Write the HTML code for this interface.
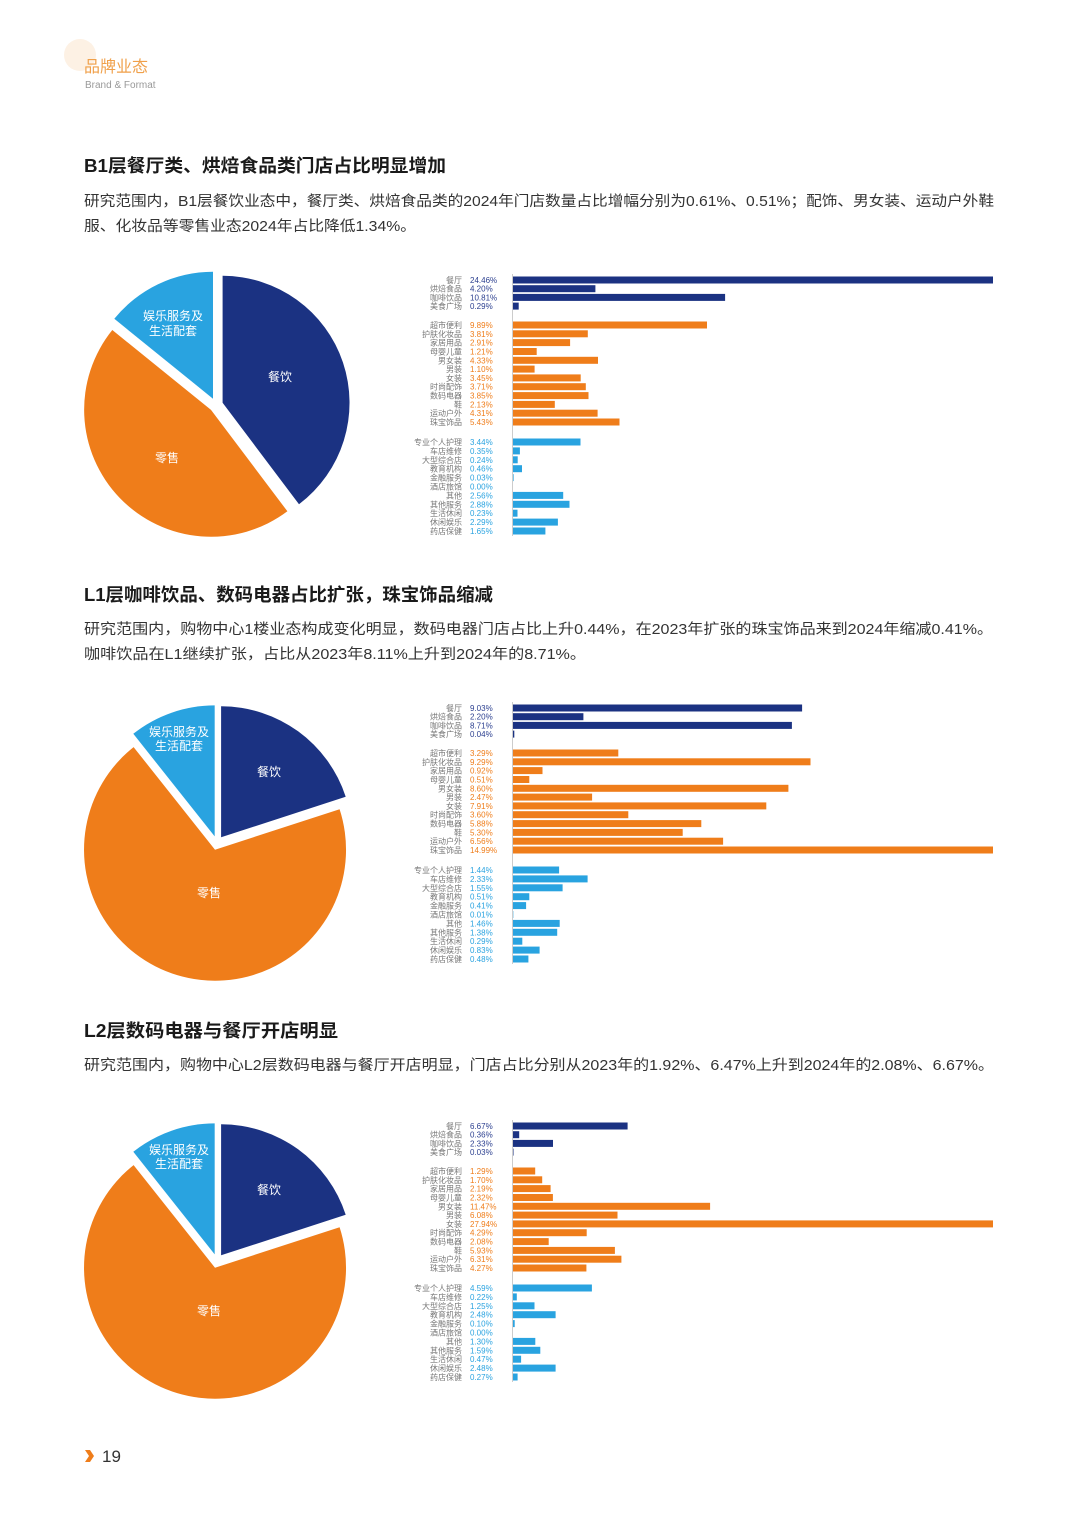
<!DOCTYPE html>
<html><head><meta charset="utf-8"><style>
html,body{margin:0;padding:0;background:#fff;}
svg{display:block;font-family:"Liberation Sans","Noto Sans CJK SC",sans-serif;}
.t{font-size:18px;font-weight:bold;fill:#1a1a1a;}
.p{font-size:14.5px;fill:#333;}
.n{font-size:8px;fill:#777;text-anchor:end;}
.v1{font-size:8px;fill:#2b3f8f;}
.v2{font-size:8px;fill:#ef7d1a;}
.v3{font-size:8px;fill:#2aa3e0;}
.b1{fill:#1b3282;}.b2{fill:#ef7d1a;}.b3{fill:#29a3e0;}
.pl{font-size:12px;fill:#fff;text-anchor:middle;}
</style></head><body>
<svg width="1080" height="1515" viewBox="0 0 1080 1515">
<circle cx="80" cy="55" r="16" fill="#fdf1e4"/>
<text x="84" y="72" font-size="16" fill="#f0a04a">品牌业态</text>
<text x="85" y="88" font-size="10" fill="#999">Brand &amp; Format</text>

<text class="t" x="84" y="172" textLength="362" lengthAdjust="spacingAndGlyphs">B1层餐厅类、烘焙食品类门店占比明显增加</text>
<text class="p" x="84" y="206" textLength="910" lengthAdjust="spacingAndGlyphs">研究范围内，B1层餐饮业态中，餐厅类、烘焙食品类的2024年门店数量占比增幅分别为0.61%、0.51%；配饰、男女装、运动户外鞋</text>
<text class="p" x="84" y="231" textLength="332" lengthAdjust="spacingAndGlyphs">服、化妆品等零售业态2024年占比降低1.34%。</text>

<text class="t" x="84" y="601" textLength="409" lengthAdjust="spacingAndGlyphs">L1层咖啡饮品、数码电器占比扩张，珠宝饰品缩减</text>
<text class="p" x="84" y="634" textLength="909" lengthAdjust="spacingAndGlyphs">研究范围内，购物中心1楼业态构成变化明显，数码电器门店占比上升0.44%，在2023年扩张的珠宝饰品来到2024年缩减0.41%。</text>
<text class="p" x="84" y="659" textLength="502" lengthAdjust="spacingAndGlyphs">咖啡饮品在L1继续扩张，占比从2023年8.11%上升到2024年的8.71%。</text>

<text class="t" x="84" y="1037" textLength="254" lengthAdjust="spacingAndGlyphs">L2层数码电器与餐厅开店明显</text>
<text class="p" x="84" y="1070" textLength="910" lengthAdjust="spacingAndGlyphs">研究范围内，购物中心L2层数码电器与餐厅开店明显，门店占比分别从2023年的1.92%、6.47%上升到2024年的2.08%、6.67%。</text>

<!-- Pie 1 -->
<path class="b1" d="M222.6,402.8 L222.6,275.8 A127,127 0 0 1 299.0,504.2 Z"/>
<path class="b2" d="M211,409.9 L287.4,511.3 A127,127 0 0 1 112.3,330.0 Z"/>
<path class="b3" d="M213,398.7 L114.3,318.8 A127,127 0 0 1 213,271.7 Z"/>
<text class="pl" x="280" y="381">餐饮</text>
<text class="pl" x="167" y="462">零售</text>
<text class="pl" x="173" y="320">娱乐服务及</text>
<text class="pl" x="173" y="335">生活配套</text>

<!-- Pie 2 -->
<g id="pie2">
<path class="b1" d="M221.1,837.3 L221.1,706.3 A131,131 0 0 1 345.7,796.8 Z"/>
<path class="b2" d="M215,849.7 L339.6,809.2 A131,131 0 1 1 133.6,747.1 Z"/>
<path class="b3" d="M214.7,836.4 L133.3,733.8 A131,131 0 0 1 214.7,705.4 Z"/>
<text class="pl" x="269" y="776">餐饮</text>
<text class="pl" x="209" y="897">零售</text>
<text class="pl" x="179" y="736">娱乐服务及</text>
<text class="pl" x="179" y="750">生活配套</text>
</g>
<g transform="translate(0,418)">
<path class="b1" d="M221.1,837.3 L221.1,706.3 A131,131 0 0 1 345.7,796.8 Z"/>
<path class="b2" d="M215,849.7 L339.6,809.2 A131,131 0 1 1 133.6,747.1 Z"/>
<path class="b3" d="M214.7,836.4 L133.3,733.8 A131,131 0 0 1 214.7,705.4 Z"/>
<text class="pl" x="269" y="776">餐饮</text>
<text class="pl" x="209" y="897">零售</text>
<text class="pl" x="179" y="736">娱乐服务及</text>
<text class="pl" x="179" y="750">生活配套</text>
</g>

<!-- Bar chart 1 -->
<g transform="translate(0,280)">
<line x1="512.5" y1="-6" x2="512.5" y2="256" stroke="#ccc" stroke-width="1"/>
<text class="n" x="462" y="3">餐厅</text><text class="v1" x="470" y="3">24.46%</text><rect class="b1" x="513" y="-3.5" width="480" height="7"/>
<text class="n" x="462" y="11.7">烘焙食品</text><text class="v1" x="470" y="11.7">4.20%</text><rect class="b1" x="513" y="5.2" width="82.4" height="7"/>
<text class="n" x="462" y="20.4">咖啡饮品</text><text class="v1" x="470" y="20.4">10.81%</text><rect class="b1" x="513" y="13.9" width="212.1" height="7"/>
<text class="n" x="462" y="29.1">美食广场</text><text class="v1" x="470" y="29.1">0.29%</text><rect class="b1" x="513" y="22.6" width="5.7" height="7"/>
<text class="n" x="462" y="48">超市便利</text><text class="v2" x="470" y="48">9.89%</text><rect class="b2" x="513" y="41.5" width="194" height="7"/>
<text class="n" x="462" y="56.8">护肤化妆品</text><text class="v2" x="470" y="56.8">3.81%</text><rect class="b2" x="513" y="50.3" width="74.8" height="7"/>
<text class="n" x="462" y="65.6">家居用品</text><text class="v2" x="470" y="65.6">2.91%</text><rect class="b2" x="513" y="59.1" width="57.1" height="7"/>
<text class="n" x="462" y="74.5">母婴儿童</text><text class="v2" x="470" y="74.5">1.21%</text><rect class="b2" x="513" y="68" width="23.7" height="7"/>
<text class="n" x="462" y="83.3">男女装</text><text class="v2" x="470" y="83.3">4.33%</text><rect class="b2" x="513" y="76.8" width="85" height="7"/>
<text class="n" x="462" y="92.1">男装</text><text class="v2" x="470" y="92.1">1.10%</text><rect class="b2" x="513" y="85.6" width="21.6" height="7"/>
<text class="n" x="462" y="100.9">女装</text><text class="v2" x="470" y="100.9">3.45%</text><rect class="b2" x="513" y="94.4" width="67.7" height="7"/>
<text class="n" x="462" y="109.7">时尚配饰</text><text class="v2" x="470" y="109.7">3.71%</text><rect class="b2" x="513" y="103.2" width="72.8" height="7"/>
<text class="n" x="462" y="118.6">数码电器</text><text class="v2" x="470" y="118.6">3.85%</text><rect class="b2" x="513" y="112.1" width="75.5" height="7"/>
<text class="n" x="462" y="127.4">鞋</text><text class="v2" x="470" y="127.4">2.13%</text><rect class="b2" x="513" y="120.9" width="41.8" height="7"/>
<text class="n" x="462" y="136.2">运动户外</text><text class="v2" x="470" y="136.2">4.31%</text><rect class="b2" x="513" y="129.7" width="84.6" height="7"/>
<text class="n" x="462" y="145">珠宝饰品</text><text class="v2" x="470" y="145">5.43%</text><rect class="b2" x="513" y="138.5" width="106.5" height="7"/>
<text class="n" x="462" y="165">专业个人护理</text><text class="v3" x="470" y="165">3.44%</text><rect class="b3" x="513" y="158.5" width="67.5" height="7"/>
<text class="n" x="462" y="173.9">车店维修</text><text class="v3" x="470" y="173.9">0.35%</text><rect class="b3" x="513" y="167.4" width="6.9" height="7"/>
<text class="n" x="462" y="182.8">大型综合店</text><text class="v3" x="470" y="182.8">0.24%</text><rect class="b3" x="513" y="176.3" width="4.7" height="7"/>
<text class="n" x="462" y="191.7">教育机构</text><text class="v3" x="470" y="191.7">0.46%</text><rect class="b3" x="513" y="185.2" width="9" height="7"/>
<text class="n" x="462" y="200.6">金融服务</text><text class="v3" x="470" y="200.6">0.03%</text><rect class="b3" x="513" y="194.1" width="0.6" height="7"/>
<text class="n" x="462" y="209.5">酒店旅馆</text><text class="v3" x="470" y="209.5">0.00%</text>
<text class="n" x="462" y="218.4">其他</text><text class="v3" x="470" y="218.4">2.56%</text><rect class="b3" x="513" y="211.9" width="50.2" height="7"/>
<text class="n" x="462" y="227.3">其他服务</text><text class="v3" x="470" y="227.3">2.88%</text><rect class="b3" x="513" y="220.8" width="56.5" height="7"/>
<text class="n" x="462" y="236.2">生活休闲</text><text class="v3" x="470" y="236.2">0.23%</text><rect class="b3" x="513" y="229.7" width="4.5" height="7"/>
<text class="n" x="462" y="245.1">休闲娱乐</text><text class="v3" x="470" y="245.1">2.29%</text><rect class="b3" x="513" y="238.6" width="44.9" height="7"/>
<text class="n" x="462" y="254">药店保健</text><text class="v3" x="470" y="254">1.65%</text><rect class="b3" x="513" y="247.5" width="32.4" height="7"/>
</g>

<!-- Bar chart 2 -->
<g transform="translate(0,708)">
<line x1="512.5" y1="-6" x2="512.5" y2="256" stroke="#ccc" stroke-width="1"/>
<text class="n" x="462" y="3">餐厅</text><text class="v1" x="470" y="3">9.03%</text><rect class="b1" x="513" y="-3.5" width="289.1" height="7"/>
<text class="n" x="462" y="11.7">烘焙食品</text><text class="v1" x="470" y="11.7">2.20%</text><rect class="b1" x="513" y="5.2" width="70.4" height="7"/>
<text class="n" x="462" y="20.4">咖啡饮品</text><text class="v1" x="470" y="20.4">8.71%</text><rect class="b1" x="513" y="13.9" width="278.9" height="7"/>
<text class="n" x="462" y="29.1">美食广场</text><text class="v1" x="470" y="29.1">0.04%</text><rect class="b1" x="513" y="22.6" width="1.3" height="7"/>
<text class="n" x="462" y="48">超市便利</text><text class="v2" x="470" y="48">3.29%</text><rect class="b2" x="513" y="41.5" width="105.3" height="7"/>
<text class="n" x="462" y="56.8">护肤化妆品</text><text class="v2" x="470" y="56.8">9.29%</text><rect class="b2" x="513" y="50.3" width="297.5" height="7"/>
<text class="n" x="462" y="65.6">家居用品</text><text class="v2" x="470" y="65.6">0.92%</text><rect class="b2" x="513" y="59.1" width="29.5" height="7"/>
<text class="n" x="462" y="74.5">母婴儿童</text><text class="v2" x="470" y="74.5">0.51%</text><rect class="b2" x="513" y="68" width="16.3" height="7"/>
<text class="n" x="462" y="83.3">男女装</text><text class="v2" x="470" y="83.3">8.60%</text><rect class="b2" x="513" y="76.8" width="275.4" height="7"/>
<text class="n" x="462" y="92.1">男装</text><text class="v2" x="470" y="92.1">2.47%</text><rect class="b2" x="513" y="85.6" width="79.1" height="7"/>
<text class="n" x="462" y="100.9">女装</text><text class="v2" x="470" y="100.9">7.91%</text><rect class="b2" x="513" y="94.4" width="253.3" height="7"/>
<text class="n" x="462" y="109.7">时尚配饰</text><text class="v2" x="470" y="109.7">3.60%</text><rect class="b2" x="513" y="103.2" width="115.3" height="7"/>
<text class="n" x="462" y="118.6">数码电器</text><text class="v2" x="470" y="118.6">5.88%</text><rect class="b2" x="513" y="112.1" width="188.3" height="7"/>
<text class="n" x="462" y="127.4">鞋</text><text class="v2" x="470" y="127.4">5.30%</text><rect class="b2" x="513" y="120.9" width="169.7" height="7"/>
<text class="n" x="462" y="136.2">运动户外</text><text class="v2" x="470" y="136.2">6.56%</text><rect class="b2" x="513" y="129.7" width="210.1" height="7"/>
<text class="n" x="462" y="145">珠宝饰品</text><text class="v2" x="470" y="145">14.99%</text><rect class="b2" x="513" y="138.5" width="480" height="7"/>
<text class="n" x="462" y="165">专业个人护理</text><text class="v3" x="470" y="165">1.44%</text><rect class="b3" x="513" y="158.5" width="46.1" height="7"/>
<text class="n" x="462" y="173.9">车店维修</text><text class="v3" x="470" y="173.9">2.33%</text><rect class="b3" x="513" y="167.4" width="74.6" height="7"/>
<text class="n" x="462" y="182.8">大型综合店</text><text class="v3" x="470" y="182.8">1.55%</text><rect class="b3" x="513" y="176.3" width="49.6" height="7"/>
<text class="n" x="462" y="191.7">教育机构</text><text class="v3" x="470" y="191.7">0.51%</text><rect class="b3" x="513" y="185.2" width="16.3" height="7"/>
<text class="n" x="462" y="200.6">金融服务</text><text class="v3" x="470" y="200.6">0.41%</text><rect class="b3" x="513" y="194.1" width="13.1" height="7"/>
<text class="n" x="462" y="209.5">酒店旅馆</text><text class="v3" x="470" y="209.5">0.01%</text><rect class="b3" x="513" y="203" width="0.3" height="7"/>
<text class="n" x="462" y="218.4">其他</text><text class="v3" x="470" y="218.4">1.46%</text><rect class="b3" x="513" y="211.9" width="46.7" height="7"/>
<text class="n" x="462" y="227.3">其他服务</text><text class="v3" x="470" y="227.3">1.38%</text><rect class="b3" x="513" y="220.8" width="44.2" height="7"/>
<text class="n" x="462" y="236.2">生活休闲</text><text class="v3" x="470" y="236.2">0.29%</text><rect class="b3" x="513" y="229.7" width="9.3" height="7"/>
<text class="n" x="462" y="245.1">休闲娱乐</text><text class="v3" x="470" y="245.1">0.83%</text><rect class="b3" x="513" y="238.6" width="26.6" height="7"/>
<text class="n" x="462" y="254">药店保健</text><text class="v3" x="470" y="254">0.48%</text><rect class="b3" x="513" y="247.5" width="15.4" height="7"/>
</g>

<!-- Bar chart 3 -->
<g transform="translate(0,1126)">
<line x1="512.5" y1="-6" x2="512.5" y2="256" stroke="#ccc" stroke-width="1"/>
<text class="n" x="462" y="3">餐厅</text><text class="v1" x="470" y="3">6.67%</text><rect class="b1" x="513" y="-3.5" width="114.6" height="7"/>
<text class="n" x="462" y="11.7">烘焙食品</text><text class="v1" x="470" y="11.7">0.36%</text><rect class="b1" x="513" y="5.2" width="6.2" height="7"/>
<text class="n" x="462" y="20.4">咖啡饮品</text><text class="v1" x="470" y="20.4">2.33%</text><rect class="b1" x="513" y="13.9" width="40" height="7"/>
<text class="n" x="462" y="29.1">美食广场</text><text class="v1" x="470" y="29.1">0.03%</text><rect class="b1" x="513" y="22.6" width="0.5" height="7"/>
<text class="n" x="462" y="48">超市便利</text><text class="v2" x="470" y="48">1.29%</text><rect class="b2" x="513" y="41.5" width="22.2" height="7"/>
<text class="n" x="462" y="56.8">护肤化妆品</text><text class="v2" x="470" y="56.8">1.70%</text><rect class="b2" x="513" y="50.3" width="29.2" height="7"/>
<text class="n" x="462" y="65.6">家居用品</text><text class="v2" x="470" y="65.6">2.19%</text><rect class="b2" x="513" y="59.1" width="37.6" height="7"/>
<text class="n" x="462" y="74.5">母婴儿童</text><text class="v2" x="470" y="74.5">2.32%</text><rect class="b2" x="513" y="68" width="39.9" height="7"/>
<text class="n" x="462" y="83.3">男女装</text><text class="v2" x="470" y="83.3">11.47%</text><rect class="b2" x="513" y="76.8" width="197.1" height="7"/>
<text class="n" x="462" y="92.1">男装</text><text class="v2" x="470" y="92.1">6.08%</text><rect class="b2" x="513" y="85.6" width="104.5" height="7"/>
<text class="n" x="462" y="100.9">女装</text><text class="v2" x="470" y="100.9">27.94%</text><rect class="b2" x="513" y="94.4" width="480" height="7"/>
<text class="n" x="462" y="109.7">时尚配饰</text><text class="v2" x="470" y="109.7">4.29%</text><rect class="b2" x="513" y="103.2" width="73.7" height="7"/>
<text class="n" x="462" y="118.6">数码电器</text><text class="v2" x="470" y="118.6">2.08%</text><rect class="b2" x="513" y="112.1" width="35.7" height="7"/>
<text class="n" x="462" y="127.4">鞋</text><text class="v2" x="470" y="127.4">5.93%</text><rect class="b2" x="513" y="120.9" width="101.9" height="7"/>
<text class="n" x="462" y="136.2">运动户外</text><text class="v2" x="470" y="136.2">6.31%</text><rect class="b2" x="513" y="129.7" width="108.4" height="7"/>
<text class="n" x="462" y="145">珠宝饰品</text><text class="v2" x="470" y="145">4.27%</text><rect class="b2" x="513" y="138.5" width="73.4" height="7"/>
<text class="n" x="462" y="165">专业个人护理</text><text class="v3" x="470" y="165">4.59%</text><rect class="b3" x="513" y="158.5" width="78.9" height="7"/>
<text class="n" x="462" y="173.9">车店维修</text><text class="v3" x="470" y="173.9">0.22%</text><rect class="b3" x="513" y="167.4" width="3.8" height="7"/>
<text class="n" x="462" y="182.8">大型综合店</text><text class="v3" x="470" y="182.8">1.25%</text><rect class="b3" x="513" y="176.3" width="21.5" height="7"/>
<text class="n" x="462" y="191.7">教育机构</text><text class="v3" x="470" y="191.7">2.48%</text><rect class="b3" x="513" y="185.2" width="42.6" height="7"/>
<text class="n" x="462" y="200.6">金融服务</text><text class="v3" x="470" y="200.6">0.10%</text><rect class="b3" x="513" y="194.1" width="1.7" height="7"/>
<text class="n" x="462" y="209.5">酒店旅馆</text><text class="v3" x="470" y="209.5">0.00%</text>
<text class="n" x="462" y="218.4">其他</text><text class="v3" x="470" y="218.4">1.30%</text><rect class="b3" x="513" y="211.9" width="22.3" height="7"/>
<text class="n" x="462" y="227.3">其他服务</text><text class="v3" x="470" y="227.3">1.59%</text><rect class="b3" x="513" y="220.8" width="27.3" height="7"/>
<text class="n" x="462" y="236.2">生活休闲</text><text class="v3" x="470" y="236.2">0.47%</text><rect class="b3" x="513" y="229.7" width="8.1" height="7"/>
<text class="n" x="462" y="245.1">休闲娱乐</text><text class="v3" x="470" y="245.1">2.48%</text><rect class="b3" x="513" y="238.6" width="42.6" height="7"/>
<text class="n" x="462" y="254">药店保健</text><text class="v3" x="470" y="254">0.27%</text><rect class="b3" x="513" y="247.5" width="4.6" height="7"/>
</g>

<!-- page number -->
<path d="M85,1450 L90,1450 L94,1456 L90,1462 L85,1462 L89,1456 Z" fill="#ef7d1a"/>
<text x="102" y="1462" font-size="17" fill="#333">19</text>
</svg>
</body></html>
